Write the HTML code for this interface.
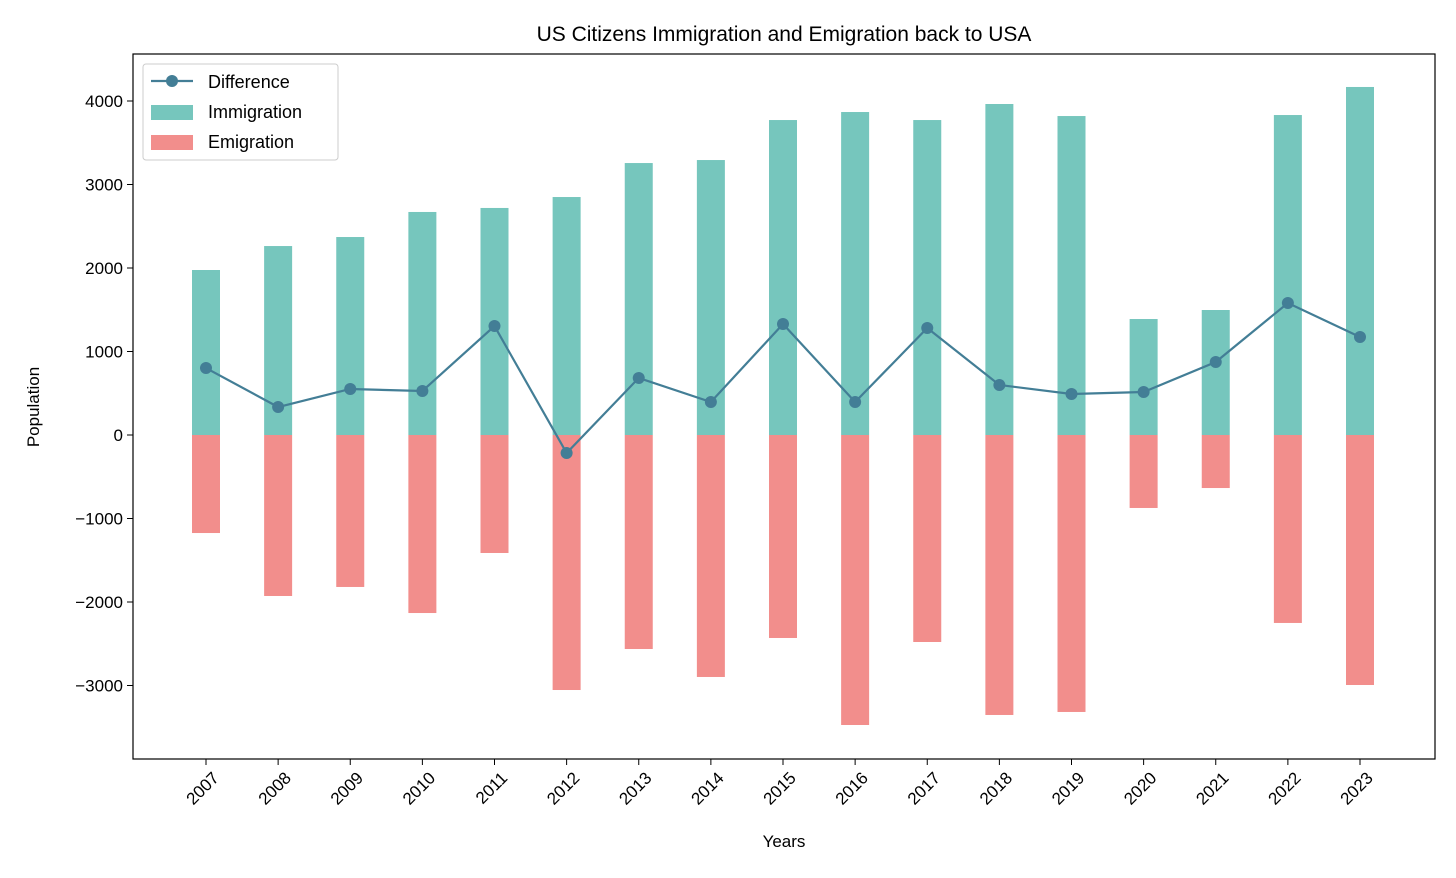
<!DOCTYPE html>
<html><head><meta charset="utf-8"><style>
body{margin:0;background:#fff;}
svg text{font-family:"Liberation Sans","DejaVu Sans",sans-serif;fill:#000;}
</style></head><body>
<svg id="chart" width="1456" height="873" xmlns="http://www.w3.org/2000/svg">
<rect width="1456" height="873" fill="#fff"/>
<text x="784" y="41" font-size="21" text-anchor="middle">US Citizens Immigration and Emigration back to USA</text>
<g id="bars"></g><g id="line"></g><g id="axes"></g>
<text x="784" y="847" font-size="17" text-anchor="middle">Years</text>
<text transform="translate(39,407) rotate(-90)" font-size="17" text-anchor="middle">Population</text>
<g>
<rect x="143" y="64" width="195" height="96" rx="3" fill="#fff" fill-opacity="0.8" stroke="#ccc"/>
<line x1="151" y1="81" x2="193" y2="81" stroke="#437e96" stroke-width="2.2"/>
<circle cx="172" cy="81" r="6" fill="#437e96"/>
<text x="208" y="88" font-size="18">Difference</text>
<rect x="151" y="105" width="42" height="15" fill="#76c6bd"/>
<text x="208" y="118" font-size="18">Immigration</text>
<rect x="151" y="135" width="42" height="15" fill="#f28e8c"/>
<text x="208" y="148" font-size="18">Emigration</text>
</g>
</svg>
<script>
const years=[2007,2008,2009,2010,2011,2012,2013,2014,2015,2016,2017,2018,2019,2020,2021,2022,2023];
const immigration=[1976,2263,2371,2671,2719,2850,3257,3293,3772,3868,3772,3964,3820,1389,1497,3832,4168];
const emigration=[-1174,-1928,-1820,-2132,-1413,-3054,-2563,-2898,-2431,-3473,-2479,-3353,-3317,-874,-635,-2251,-2994];
const difference=[802,335,551,527,1305,-216,683,395,1329,395,1281,599,491,515,874,1581,1174];
const yTicks=[-3000,-2000,-1000,0,1000,2000,3000,4000];
const NS="http://www.w3.org/2000/svg";
const L=133,R=1435,T=54,B=759;
function x(i){return 206+i*(1360-206)/(years.length-1);}
function y(v){return 435-v*83.5/1000;}
function mk(tag,attrs,parent){const e=document.createElementNS(NS,tag);for(const k in attrs)e.setAttribute(k,attrs[k]);parent.appendChild(e);return e;}
const bars=document.getElementById('bars'),line=document.getElementById('line'),axes=document.getElementById('axes');
const bw=28;
years.forEach((yr,i)=>{
 const a=mk('rect',{x:x(i)-bw/2,y:y(immigration[i]),width:bw,height:y(0)-y(immigration[i]),fill:'#76c6bd'},bars);
 
 
 const b=mk('rect',{x:x(i)-bw/2,y:y(0),width:bw,height:y(emigration[i])-y(0),fill:'#f28e8c'},bars);
 
 
});
const pl=mk('polyline',{points:difference.map((v,i)=>x(i)+','+y(v)).join(' '),fill:'none',stroke:'#437e96','stroke-width':2.2},line);


difference.forEach((v,i)=>{
 const c=mk('circle',{cx:x(i),cy:y(v),r:6,fill:'#437e96'},line);
 
 
});
const fr=mk('rect',{x:L,y:T,width:R-L,height:B-T,fill:'none',stroke:'#000','stroke-width':1.2},axes);


yTicks.forEach(v=>{
 mk('line',{x1:L-6,x2:L,y1:y(v),y2:y(v),stroke:'#000'},axes);
 const t=mk('text',{x:L-10,y:y(v)+6,'font-size':17,'text-anchor':'end'},axes);
 t.textContent=v<0?'\u2212'+(-v):String(v);
 
 
});
years.forEach((yr,i)=>{
 mk('line',{x1:x(i),x2:x(i),y1:B,y2:B+6,stroke:'#000'},axes);
 const t=mk('text',{transform:`translate(${x(i)+14},${B+20}) rotate(-45)`,'font-size':17,'text-anchor':'end'},axes);
 t.textContent=yr;
 
 
});
</script>
</body></html>
